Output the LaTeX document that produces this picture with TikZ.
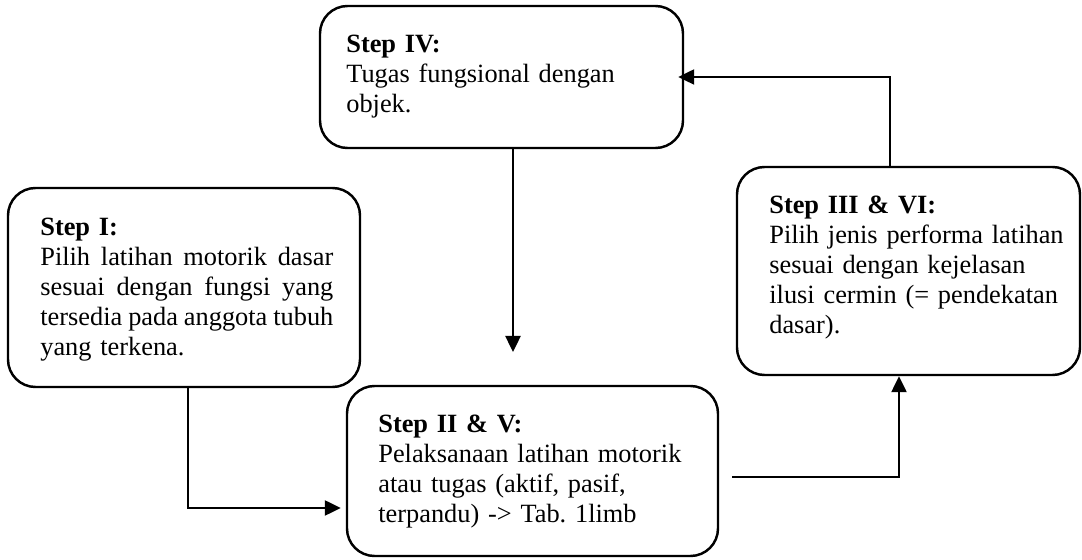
\documentclass[tikz,border=0pt]{standalone}
\usepackage{fontspec}
\setmainfont{Liberation Serif}[WordSpace=0.9]
\usetikzlibrary{arrows.meta}
\tikzset{
	stepbox/.style={shape=rectangle, draw, line width=1.4pt, rounded corners=0.55cm, inner sep=0},
	steptext/.style={anchor=base west, inner sep=0, align=left, font=\fontsize{15}{17.07}\selectfont},
	arr/.style={line width=1.4pt, -{Triangle[length=0.32cm, width=0.3cm]}}
}
\newcommand{\fullline}[1]{\makebox[\linewidth][s]{\spaceskip=0.12em plus 1em\relax #1}}
\frenchspacing

\begin{document}
\begin{tikzpicture}
	\useasboundingbox (0, 0) rectangle (21.64, 11.2);
	\node[stepbox, minimum width=7.26cm, minimum height=2.84cm] (IV) at (10.03, 9.66) {};
	\node[stepbox, minimum width=7.04cm, minimum height=3.98cm] (I) at (3.68, 5.45) {};
	\node[stepbox, minimum width=7.42cm, minimum height=3.4cm] (II) at (10.65, 1.78) {};
	\node[stepbox, minimum width=6.86cm, minimum height=4.16cm] (III) at (18.17, 5.78) {};
	\node[steptext, text width=6cm] (IVtext) at (6.92, 10.14) {\textbf{Step IV:}\\Tugas fungsional dengan\\objek.};
	\node[steptext, text width=5.86cm] (Itext) at (0.8, 6.48) {\textbf{Step I:}\\\fullline{Pilih latihan motorik dasar}\\\fullline{sesuai dengan fungsi yang}\\\fullline{tersedia pada anggota tubuh}\\yang terkena.};
	\node[steptext, text width=6.4cm] (IItext) at (7.56, 2.54) {\textbf{Step II \& V:}\\Pelaksanaan latihan motorik\\atau tugas (aktif, pasif,\\terpandu) -> Tab. 1limb};
	\node[steptext, text width=6cm] (IIItext) at (15.38, 6.92) {\textbf{Step III \& VI:}\\Pilih jenis performa latihan\\sesuai dengan kejelasan\\ilusi cermin (= pendekatan\\dasar).};
	\coordinate (IVend) at (10.26, 4.16);
	\coordinate (IIout) at (14.64, 1.66);
	\draw[arr] (IVend |- IV.south) -- (IVend);
	\draw[arr] ([xshift=0.08cm]I.south) |- ([yshift=-0.74cm, xshift=-0.1cm]II.west);
	\draw[arr] (IIout) -| ([xshift=-0.19cm]III.south);
	\draw[arr] ([xshift=-0.37cm]III.north) |- ([xshift=-0.12cm]IV.east);
\end{tikzpicture}
\end{document}
